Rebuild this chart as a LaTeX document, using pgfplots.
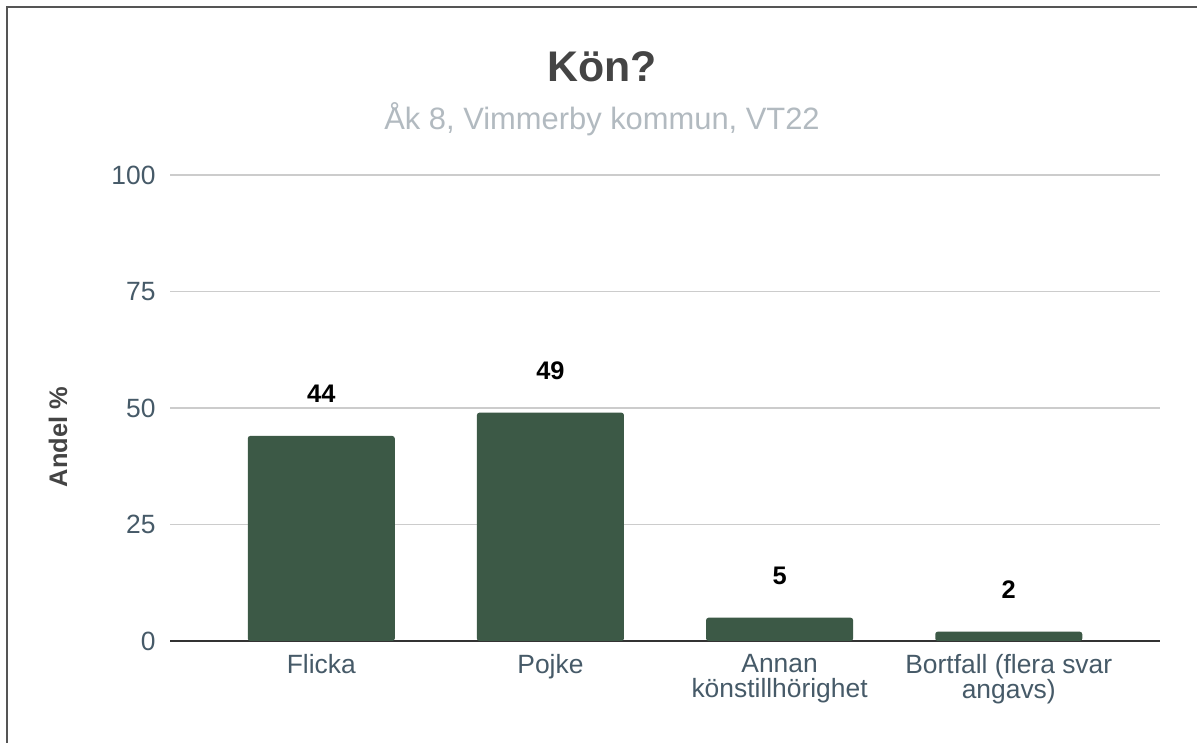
\documentclass[border=0pt]{standalone}
\usepackage{fontspec}
\setmainfont{Liberation Sans}
\usepackage{pgfplots}
\pgfplotsset{compat=1.18}
\definecolor{barc}{HTML}{3C5946}
\definecolor{titlec}{HTML}{444444}
\definecolor{subc}{HTML}{B2BAC0}
\definecolor{tickc}{HTML}{465A68}
\definecolor{gridc}{HTML}{CCCCCC}
\definecolor{axisc}{HTML}{333333}
\definecolor{framec}{HTML}{555555}
\begin{document}
\begin{tikzpicture}[x=1bp,y=1bp]
\useasboundingbox (0,0) rectangle (1197,743);
\fill[white] (0,0) rectangle (1197,743);
\draw[line width=2.5bp, framec] (7,0) -- (7,736) -- (1197,736);
\node[anchor=base, font=\fontsize{43}{46}\selectfont\bfseries, text=titlec] at (602,661) {Kön?};
\node[anchor=base, font=\fontsize{31}{34}\selectfont, text=subc] at (602,613) {Åk 8, Vimmerby kommun, VT22};
\node[rotate=90, font=\fontsize{25.5}{28}\selectfont\bfseries, text=titlec] at (58,306) {Andel \%};
\begin{axis}[
  at={(170bp,102bp)}, anchor=south west,
  scale only axis, width=990bp, height=466bp,
  ymin=0, ymax=100, ytick={0,25,50,75,100},
  xmin=-0.66, xmax=3.66,
  xtick={0,1,2,3},
  xticklabels={Flicka, Pojke, {Annan\\könstillhörighet}, {Bortfall (flera svar\\angavs)}},
  axis x line=bottom, axis y line=left,
  x axis line style={-, axisc, line width=2bp},
  y axis line style={draw=none},
  ymajorgrids, grid style={gridc, line width=1.3bp},
  major tick length=0pt,
  tick style={draw=none},
  /pgf/number format/assume math mode=true,
  ticklabel style={font=\fontsize{26.5}{25}\selectfont, text=tickc},
  yticklabel style={xshift=-11bp},
  xticklabel style={align=center, yshift=-10bp},
  ybar, bar width=147bp, bar shift=0pt,
  nodes near coords,
  every node near coord/.append style={anchor=base, yshift=33bp, font=\fontsize{25.5}{25}\selectfont\bfseries, text=black},
  clip=false,
]
\addplot[fill=barc, draw=none, rounded corners=2.5bp] coordinates {(0,44) (1,49) (2,5) (3,2)};
\end{axis}
\end{tikzpicture}
\end{document}
